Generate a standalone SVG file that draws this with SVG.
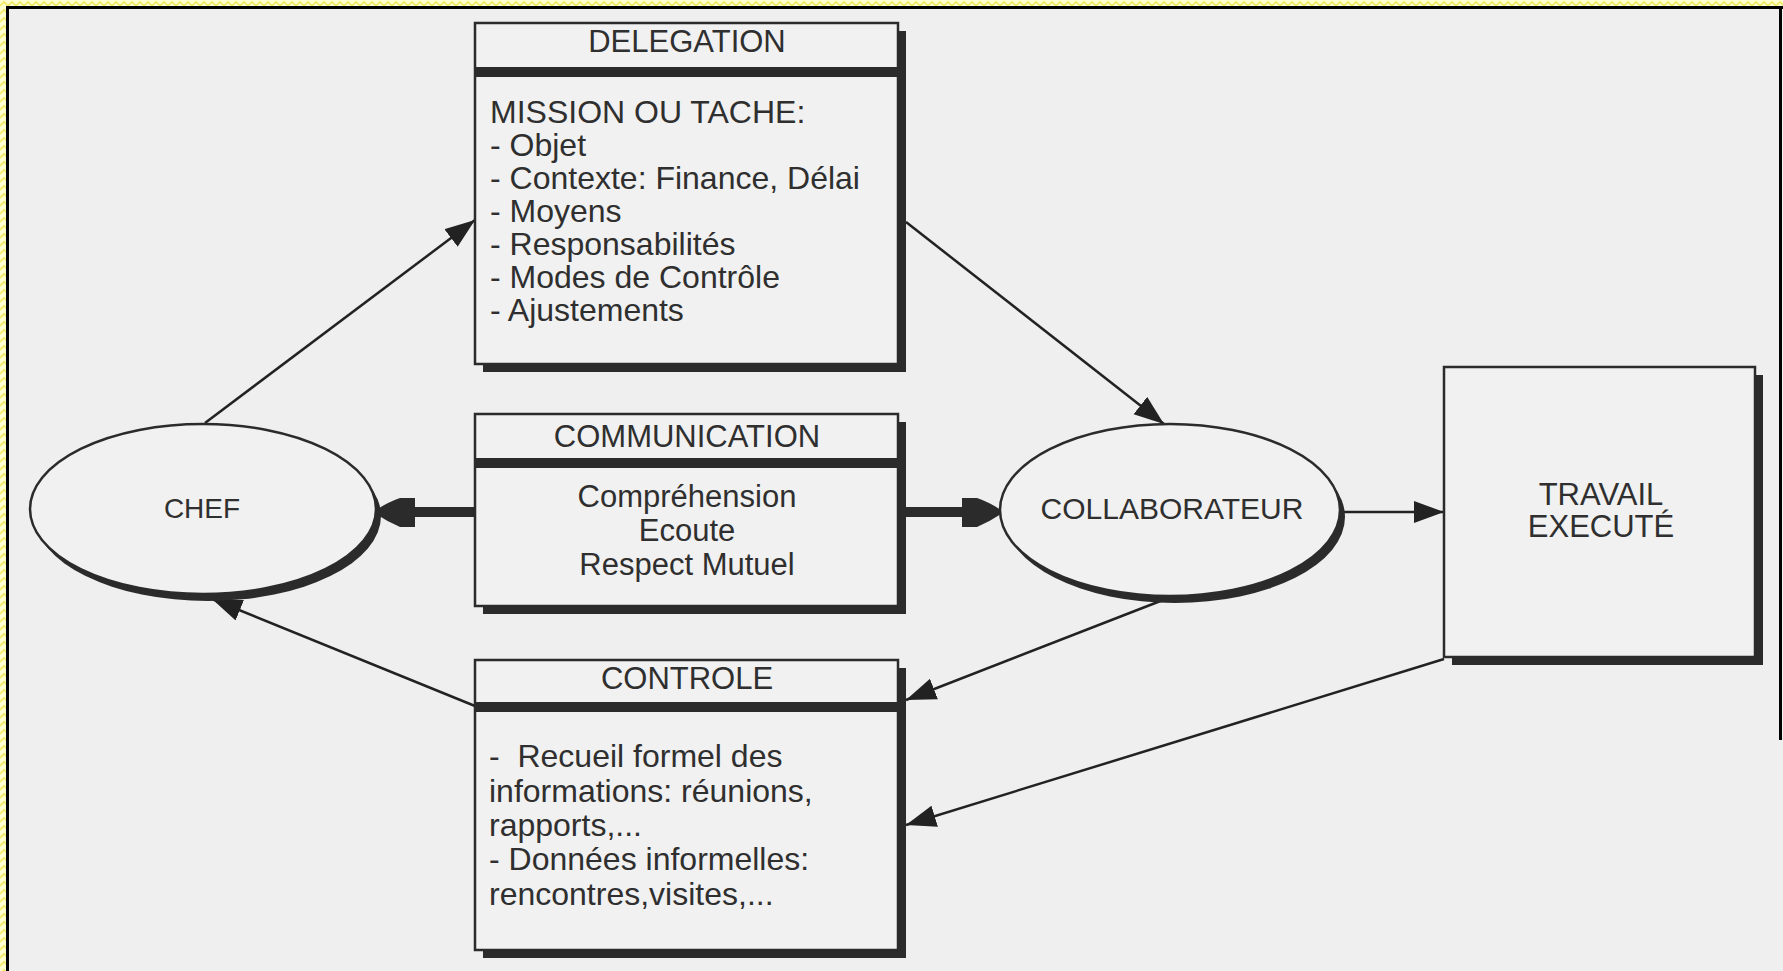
<svg xmlns="http://www.w3.org/2000/svg" width="1783" height="971" viewBox="0 0 1783 971">
<style>
.bg{fill:#efefef}
.box{fill:#f1f1f1;stroke:#2b2b2b;stroke-width:2.5}
.sh{fill:#2b2b2b}
.t{font-family:"Liberation Sans",Arial,sans-serif;font-size:31px;fill:#2f2f2f}
.b{font-size:32px}
.c{text-anchor:middle}
.ln{stroke:#222;stroke-width:2.5;fill:none}
.thick{stroke:#2b2b2b;stroke-width:10;fill:none}
.head{fill:#2b2b2b}
</style>
<defs>
<pattern id="hatch" width="8" height="8" patternUnits="userSpaceOnUse">
<rect width="8" height="8" fill="#ffffd0"/>
<path d="M0,6 L4,2 L8,6" stroke="#f2ea60" stroke-width="1.6" fill="none"/>
</pattern>
<marker id="arr" markerWidth="32" markerHeight="24" refX="30" refY="11" orient="auto" markerUnits="userSpaceOnUse">
<path d="M0,0 L30,11 L0,22 Z" fill="#222"/>
</marker>
</defs>
<rect class="bg" x="0" y="0" width="1783" height="971"/>
<rect x="0" y="0" width="1783" height="6" fill="url(#hatch)"/>
<rect x="0" y="0" width="6" height="971" fill="url(#hatch)"/>
<g id="frame" stroke="#000" stroke-width="3" fill="none">
<path d="M6,7.5 H1783"/>
<path d="M7.5,6 V971"/>
<path d="M1780.5,6 V740"/>
</g>

<g id="connectors">
<line class="ln" x1="205" y1="423" x2="475" y2="220" marker-end="url(#arr)"/>
<line class="ln" x1="906" y1="222" x2="1164" y2="424" marker-end="url(#arr)"/>
<line class="ln" x1="1342" y1="512" x2="1444" y2="512" marker-end="url(#arr)"/>
<line class="ln" x1="1163" y1="600" x2="906" y2="700" marker-end="url(#arr)"/>
<line class="ln" x1="1444" y1="659" x2="906" y2="825" marker-end="url(#arr)"/>
<line class="ln" x1="475" y1="706" x2="212" y2="599" marker-end="url(#arr)"/>
<line class="thick" x1="475" y1="512" x2="412" y2="512"/>
<path class="head" d="M415,498 L415,527 L400,527 Q388,522 376,514 L376,510 Q388,502 400,498 Z"/>
<line class="thick" x1="906" y1="512" x2="965" y2="512"/>
<path class="head" d="M962,498 L962,527 L977,527 Q989,522 1001,514 L1001,510 Q989,502 977,498 Z"/>
</g>

<g id="chef">
<ellipse class="sh" cx="208" cy="516" rx="173" ry="85"/>
<ellipse class="box" cx="203" cy="509" rx="173" ry="85"/>
<text class="t c" x="202" y="518" style="font-size:28px">CHEF</text>
</g>

<g id="collaborateur">
<ellipse class="sh" cx="1175" cy="517" rx="170" ry="86"/>
<ellipse class="box" cx="1170" cy="510" rx="170" ry="86"/>
<text class="t c" x="1172" y="519" style="font-size:30px">COLLABORATEUR</text>
</g>

<g id="delegation">
<rect class="sh" x="483" y="31" width="423" height="341"/>
<rect class="box" x="475" y="23" width="423" height="341"/>
<rect class="sh" x="475" y="67" width="431" height="10"/>
<text class="t c" x="687" y="52">DELEGATION</text>
<text class="t b" x="490" y="123">MISSION OU TACHE:</text>
<text class="t b" x="490" y="156">- Objet</text>
<text class="t b" x="490" y="189">- Contexte: Finance, Délai</text>
<text class="t b" x="490" y="222">- Moyens</text>
<text class="t b" x="490" y="255">- Responsabilités</text>
<text class="t b" x="490" y="288">- Modes de Contrôle</text>
<text class="t b" x="490" y="321">- Ajustements</text>
</g>

<g id="communication">
<rect class="sh" x="483" y="422" width="423" height="192"/>
<rect class="box" x="475" y="414" width="423" height="192"/>
<rect class="sh" x="475" y="458" width="431" height="10"/>
<text class="t c" x="687" y="447">COMMUNICATION</text>
<text class="t c" x="687" y="507">Compréhension</text>
<text class="t c" x="687" y="541">Ecoute</text>
<text class="t c" x="687" y="575">Respect Mutuel</text>
</g>

<g id="controle">
<rect class="sh" x="483" y="668" width="423" height="290"/>
<rect class="box" x="475" y="660" width="423" height="290"/>
<rect class="sh" x="475" y="702" width="431" height="10"/>
<text class="t c" x="687" y="689">CONTROLE</text>
<text class="t b" x="489" y="767" xml:space="preserve">-  Recueil formel des</text>
<text class="t b" x="489" y="802">informations: réunions,</text>
<text class="t b" x="489" y="836">rapports,...</text>
<text class="t b" x="489" y="870">- Données informelles:</text>
<text class="t b" x="489" y="905">rencontres,visites,...</text>
</g>

<g id="travail">
<rect class="sh" x="1452" y="375" width="311" height="290"/>
<rect class="box" x="1444" y="367" width="311" height="290"/>
<text class="t c" x="1601" y="505">TRAVAIL</text>
<text class="t c" x="1601" y="537">EXECUTÉ</text>
</g>
</svg>
